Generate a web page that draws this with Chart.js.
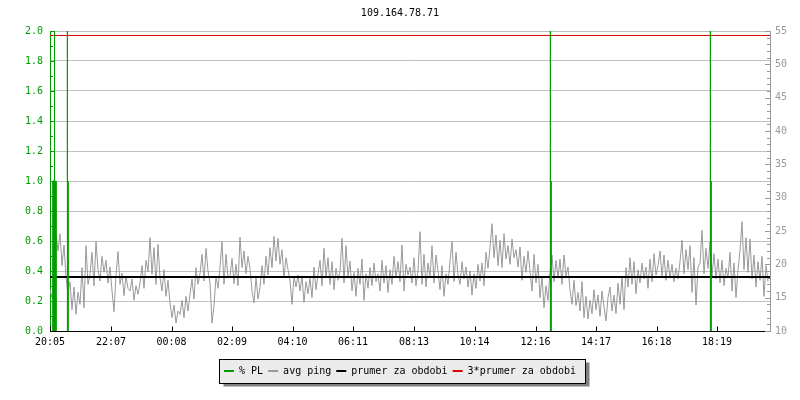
<!DOCTYPE html>
<html>
<head>
<meta charset="utf-8">
<script src="https://cdn.jsdelivr.net/npm/chart.js@4/dist/chart.umd.min.js"></script>
<style>
  body { margin: 0; background: #fff; }
  #wrap { width: 800px; height: 400px; }
</style>
</head>
<body>
<div id="wrap"><canvas id="graf"></canvas></div>
<script>
const title = '109.164.78.71';
const tickLabels = ['20:05','22:07','00:08','02:09','04:10','06:11','08:13','10:14','12:16','14:17','16:18','18:19'];
const spanMinutes = 1440;
const pingStep = 4; // minutes between ping samples

// avg ping [ms], right axis
const avgPing = [
  16.2, 15.0, 17.6, 24.6, 22.0,  24.6, 19.8, 22.9, 18.0, 15.6,
  17.4, 13.2, 16.6, 12.5, 15.8,  14.0, 19.5, 13.5, 22.8, 17.0,
  18.5, 21.8, 16.8, 23.4, 19.2,  17.5, 21.2, 18.8, 20.6, 17.2,
  19.6, 16.0, 12.9, 18.4, 21.9,  17.0, 18.7, 15.3, 18.2, 16.4,
  16.0, 17.8, 14.6, 16.8, 15.5,  17.2, 19.8, 16.4, 20.6, 18.9,
  24.0, 18.5, 22.5, 17.0, 23.0,  18.0, 16.0, 19.2, 15.2, 17.6,
  14.2, 12.0, 13.9, 11.2, 13.0,  12.5, 14.6, 12.0, 15.2, 13.0,
  15.5, 17.8, 14.8, 19.5, 17.0,  18.6, 21.5, 17.5, 22.4, 19.0,
  17.2, 11.2, 13.8, 18.2, 16.4,  19.5, 23.4, 17.0, 21.5, 18.0,
  18.2, 20.9, 17.1, 20.0, 16.8,  24.1, 19.5, 22.0, 18.6, 21.2,
  19.4, 16.0, 14.2, 18.0, 14.8,  16.5, 19.8, 17.0, 21.2, 18.4,
  22.5, 19.5, 24.2, 20.5, 23.9,  20.0, 22.2, 18.0, 21.0, 19.2,
  17.5, 14.0, 18.2, 16.6, 18.4,  16.0, 18.2, 14.3, 17.4, 15.6,
  17.9, 15.0, 19.6, 16.2, 18.5,  20.6, 16.8, 22.4, 18.0, 21.0,
  17.0, 20.4, 16.2, 19.4, 17.6,  19.0, 23.9, 17.2, 22.8, 18.2,
  20.5, 16.0, 18.8, 15.2, 19.4,  17.0, 20.8, 14.6, 18.6, 16.4,
  19.5, 16.8, 20.2, 17.4, 18.6,  16.0, 20.6, 17.2, 19.8, 15.8,
  19.2, 17.0, 21.2, 18.0, 20.4,  17.4, 22.9, 16.0, 20.0, 18.4,
  19.6, 17.2, 21.0, 16.8, 19.0,  24.9, 17.0, 21.5, 16.6, 20.2,
  18.0, 22.8, 17.2, 21.4, 19.0,  16.2, 19.8, 15.2, 18.6, 17.0,
  20.5, 23.4, 17.4, 21.8, 18.4,  17.0, 20.4, 17.8, 19.6, 16.6,
  19.0, 15.4, 18.6, 16.4, 20.0,  17.5, 20.2, 16.8, 21.8, 19.4,
  22.5, 26.1, 21.0, 24.4, 19.8,  23.6, 19.5, 24.6, 20.8, 22.8,
  20.0, 23.8, 21.0, 22.2, 19.6,  22.6, 17.6, 21.2, 18.8, 22.0,
  19.0, 16.0, 21.5, 17.2, 20.0,  15.0, 18.2, 13.5, 16.8, 14.6,
  18.8, 21.4, 17.4, 20.6, 18.0,  20.8, 17.0, 21.4, 18.2, 19.6,
  16.2, 14.0, 17.6, 13.8, 15.8,  13.0, 17.4, 12.0, 15.2, 11.8,
  14.6, 12.6, 16.2, 13.2, 15.4,  12.2, 16.0, 13.6, 11.5, 15.0,
  16.6, 13.0, 15.4, 12.6, 17.2,  14.0, 18.2, 13.2, 19.5, 16.6,
  21.0, 17.0, 20.4, 15.6, 19.2,  17.2, 20.2, 17.8, 19.6, 16.4,
  20.8, 17.4, 21.6, 18.4, 19.8,  22.0, 18.2, 21.4, 17.6, 20.6,
  18.0, 20.0, 17.4, 19.4, 17.8,  20.4, 23.6, 18.6, 22.2, 19.2,
  22.8, 15.8, 21.0, 13.9, 19.6,  20.2, 25.1, 18.6, 22.4, 19.4,
  23.4, 18.2, 21.6, 17.8, 20.8,  17.2, 20.6, 16.8, 19.4, 18.0,
  21.8, 16.0, 20.2, 15.0, 19.2,  22.0, 26.4, 19.2, 24.0, 18.8,
  23.8, 17.8, 21.4, 16.6, 20.4,  17.6, 21.2, 15.2, 19.8, 17.4
];

// % packet loss, left axis: path of the line (minutes from start / value)
const plMinutes = [0, 9, 9, 6, 6, 7, 7, 9, 9, 11, 11, 12, 12,
                   34, 34, 35, 35, 35, 36, 36,
                   1000, 1000, 1001, 1001, 1001, 1002, 1002,
                   1320, 1320, 1321, 1321, 1321, 1322, 1322, 1440];
const plValues  = [2, 2, 1, 1, 0, 0, 1, 1, 0, 0, 1, 1, 0,
                   0, 1, 1, 2, 1, 1, 0,
                   0, 1, 1, 2, 1, 1, 0,
                   0, 1, 1, 2, 1, 1, 0, 0];

const prumer = 18.1;      // prumer za obdobi [ms]
const prumer3 = 54.33;    // 3*prumer za obdobi [ms]

const MONO = "'DejaVu Sans Mono', 'Liberation Mono', monospace";
const GREEN = '#009c00';

function toMinutes(lbl) {
  const p = lbl.split(':');
  const start = tickLabels[0].split(':');
  return ((+p[0] * 60 + +p[1]) - (+start[0] * 60 + +start[1]) + 1440) % 1440;
}
const tickMinutes = tickLabels.map(toMinutes);

// legend frame with shadow, like the original
const legendFrame = {
  id: 'legendFrame',
  beforeDraw(chart) {
    const lg = chart.legend;
    if (!lg || !lg.legendHitBoxes || !lg.legendHitBoxes.length) return;
    const hb = lg.legendHitBoxes;
    let l = Infinity, r = -Infinity;
    hb.forEach(b => { l = Math.min(l, b.left); r = Math.max(r, b.left + b.width); });
    const x = Math.round(l - 5) + 0.5;
    const y = Math.round(hb[0].top - 7) + 0.5;
    const w = Math.round(r - l + 14);
    const h = 24;
    const ctx = chart.ctx;
    ctx.save();
    ctx.fillStyle = '#808080';
    ctx.fillRect(x + 4, y + 3, w, h);
    ctx.fillStyle = '#ebebeb';
    ctx.fillRect(x, y, w, h);
    ctx.strokeStyle = '#000';
    ctx.lineWidth = 1;
    ctx.strokeRect(x, y, w, h);
    ctx.restore();
  }
};

// small tick marks pointing into the plot, x axis line on top of the data
const innerTicks = {
  id: 'innerTicks',
  afterDraw(chart) {
    const ctx = chart.ctx;
    const a = chart.chartArea;
    const yl = chart.scales.y, yr = chart.scales.y2, x = chart.scales.x;
    ctx.save();
    ctx.lineWidth = 1;
    ctx.strokeStyle = GREEN;
    for (let k = 0; k <= 20; k++) {
      const py = Math.round(yl.getPixelForValue(k / 10)) + 0.5;
      ctx.beginPath(); ctx.moveTo(a.left, py); ctx.lineTo(a.left + (k % 2 ? 3 : 5), py); ctx.stroke();
    }
    ctx.strokeStyle = '#999';
    for (let v = yr.min; v <= yr.max; v++) {
      const py = Math.round(yr.getPixelForValue(v)) + 0.5;
      ctx.beginPath(); ctx.moveTo(a.right, py); ctx.lineTo(a.right - (v % 5 ? 3 : 5), py); ctx.stroke();
    }
    ctx.strokeStyle = '#000';
    const by = Math.round(a.bottom) + 0.5;
    ctx.beginPath(); ctx.moveTo(a.left, by); ctx.lineTo(x.getPixelForValue(x.max) - 5, by); ctx.stroke();
    tickMinutes.forEach(m => {
      const px = Math.round(x.getPixelForValue(m)) + 0.5;
      ctx.beginPath(); ctx.moveTo(px, by); ctx.lineTo(px, by - 5); ctx.stroke();
    });
    ctx.restore();
  }
};

new Chart(document.getElementById('graf'), {
  type: 'line',
  data: {
    datasets: [
      {
        label: '% PL',
        data: plMinutes.map((m, i) => ({x: m, y: plValues[i]})),
        borderColor: GREEN, backgroundColor: GREEN,
        borderWidth: 1, yAxisID: 'y', order: 0,
        segment: { borderColor: c => (c.p0.parsed.y === 0 && c.p1.parsed.y === 0) ? 'rgba(0,0,0,0)' : undefined }
      },
      {
        label: 'avg ping',
        data: avgPing.map((v, i) => ({x: i * pingStep, y: v})),
        borderColor: '#999999', backgroundColor: '#999999',
        borderWidth: 1, yAxisID: 'y2', order: 3
      },
      {
        label: 'prumer za obdobi',
        data: [{x: 0, y: prumer}, {x: spanMinutes, y: prumer}],
        borderColor: '#000', backgroundColor: '#000',
        borderWidth: 2, yAxisID: 'y2', order: 1
      },
      {
        label: '3*prumer za obdobi',
        data: [{x: 0, y: prumer3}, {x: spanMinutes, y: prumer3}],
        borderColor: '#e00000', backgroundColor: '#e00000',
        borderWidth: 1, yAxisID: 'y2', order: 2
      }
    ]
  },
  options: {
    responsive: true,
    maintainAspectRatio: false,
    animation: false,
    elements: { point: { radius: 0 }, line: { tension: 0 } },
    layout: { padding: { bottom: 14 } },
    scales: {
      x: {
        type: 'linear', min: 0, max: spanMinutes,
        afterBuildTicks(s) { s.ticks = tickMinutes.map(v => ({value: v})); },
        afterFit(s) { s.height = 30; },
        grid: { display: false, drawTicks: false },
        border: { display: false },
        ticks: {
          autoSkip: false, maxRotation: 0, padding: 5, color: '#000',
          font: { family: MONO, size: 10 },
          callback: (v, i) => tickLabels[i]
        }
      },
      y: {
        position: 'left', min: 0, max: 2,
        afterFit(s) { s.width = 50; },
        grid: { color: '#c0c0c0', drawTicks: false },
        border: { color: GREEN, width: 1 },
        ticks: {
          stepSize: 0.2, padding: 7, color: GREEN,
          font: { family: MONO, size: 10 },
          callback: v => v.toFixed(1)
        }
      },
      y2: {
        position: 'right', min: 10, max: 55,
        afterFit(s) { s.width = 30; },
        grid: { display: false, drawTicks: false },
        border: { color: '#999', width: 1 },
        ticks: {
          stepSize: 5, padding: 5, color: '#999',
          font: { family: MONO, size: 10 }
        }
      }
    },
    plugins: {
      title: {
        display: true, text: title, color: '#000',
        font: { family: MONO, size: 10, weight: 'normal' },
        padding: { top: 7, bottom: 12 }
      },
      legend: {
        position: 'bottom',
        labels: {
          color: '#000', padding: 5,
          font: { family: MONO, size: 10 },
          usePointStyle: true, pointStyle: 'line', pointStyleWidth: 10,
          sort: (a, b) => a.datasetIndex - b.datasetIndex,
          generateLabels(chart) {
            const items = Chart.defaults.plugins.legend.labels.generateLabels(chart);
            items.forEach(it => { it.lineWidth = 2; });
            return items;
          }
        }
      },
      tooltip: { enabled: false }
    }
  },
  plugins: [legendFrame, innerTicks]
});
</script>
</body>
</html>
